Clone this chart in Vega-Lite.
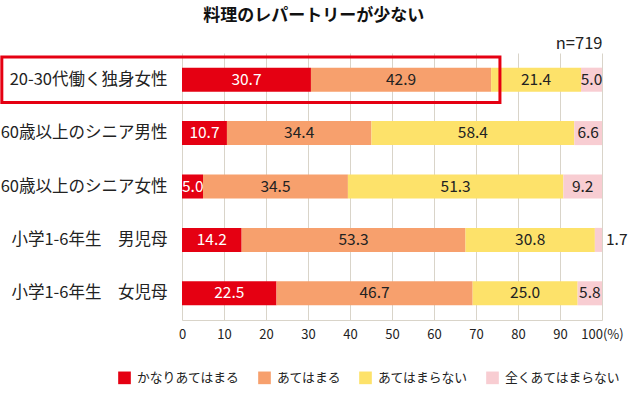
{
  "$schema": "https://vega.github.io/schema/vega-lite/v6.json",
  "width": 420,
  "height": 267,
  "autosize": "none",
  "padding": {"left": 182, "right": 28, "top": 53, "bottom": 76},
  "background": "white",
  "config": {
    "font": "Noto Sans CJK JP",
    "view": {"stroke": null}
  },
  "title": {
    "text": "料理のレパートリーが少ない",
    "fontSize": 17,
    "fontWeight": "bold",
    "color": "#111",
    "anchor": "middle",
    "frame": "bounds",
    "offset": 10
  },
  "data": {
    "values": [
      {"group": "20-30代働く独身女性", "cat": "かなりあてはまる", "v": 30.7, "lab": "30.7"},
      {"group": "20-30代働く独身女性", "cat": "あてはまる", "v": 42.9, "lab": "42.9"},
      {"group": "20-30代働く独身女性", "cat": "あてはまらない", "v": 21.4, "lab": "21.4"},
      {"group": "20-30代働く独身女性", "cat": "全くあてはまらない", "v": 5.0, "lab": "5.0"},
      {"group": "60歳以上のシニア男性", "cat": "かなりあてはまる", "v": 10.7, "lab": "10.7"},
      {"group": "60歳以上のシニア男性", "cat": "あてはまる", "v": 34.4, "lab": "34.4"},
      {"group": "60歳以上のシニア男性", "cat": "あてはまらない", "v": 48.3, "lab": "58.4"},
      {"group": "60歳以上のシニア男性", "cat": "全くあてはまらない", "v": 6.6, "lab": "6.6"},
      {"group": "60歳以上のシニア女性", "cat": "かなりあてはまる", "v": 5.0, "lab": "5.0"},
      {"group": "60歳以上のシニア女性", "cat": "あてはまる", "v": 34.5, "lab": "34.5"},
      {"group": "60歳以上のシニア女性", "cat": "あてはまらない", "v": 51.3, "lab": "51.3"},
      {"group": "60歳以上のシニア女性", "cat": "全くあてはまらない", "v": 9.2, "lab": "9.2"},
      {"group": "小学1-6年生　男児母", "cat": "かなりあてはまる", "v": 14.2, "lab": "14.2"},
      {"group": "小学1-6年生　男児母", "cat": "あてはまる", "v": 53.3, "lab": "53.3"},
      {"group": "小学1-6年生　男児母", "cat": "あてはまらない", "v": 30.8, "lab": "30.8"},
      {"group": "小学1-6年生　男児母", "cat": "全くあてはまらない", "v": 1.7, "lab": "1.7"},
      {"group": "小学1-6年生　女児母", "cat": "かなりあてはまる", "v": 22.5, "lab": "22.5"},
      {"group": "小学1-6年生　女児母", "cat": "あてはまる", "v": 46.7, "lab": "46.7"},
      {"group": "小学1-6年生　女児母", "cat": "あてはまらない", "v": 25.0, "lab": "25.0"},
      {"group": "小学1-6年生　女児母", "cat": "全くあてはまらない", "v": 5.8, "lab": "5.8"}
    ]
  },
  "transform": [
    {"calculate": "indexof(['かなりあてはまる','あてはまる','あてはまらない','全くあてはまらない'], datum.cat)", "as": "k"},
    {"stack": "v", "groupby": ["group"], "sort": [{"field": "k", "order": "ascending"}], "as": ["x0", "x1"]},
    {"calculate": "(datum.x0 + datum.x1) / 2", "as": "mid"}
  ],
  "encoding": {
    "y": {
      "field": "group",
      "type": "nominal",
      "sort": ["20-30代働く独身女性", "60歳以上のシニア男性", "60歳以上のシニア女性", "小学1-6年生　男児母", "小学1-6年生　女児母"],
      "scale": {"paddingInner": 0, "paddingOuter": 0},
      "axis": {"title": null, "domain": false, "ticks": false, "labelFontSize": 16.5, "labelColor": "#222", "labelPadding": 15, "labelLimit": 300}
    }
  },
  "layer": [
    {
      "mark": {"type": "bar", "height": {"band": 0.45}},
      "encoding": {
        "x": {
          "field": "x0", "type": "quantitative",
          "scale": {"domain": [0, 100], "nice": false},
          "axis": {"title": null, "values": [0,10,20,30,40,50,60,70,80,90,100], "grid": true, "gridColor": "#d9d4c9", "domainColor": "#d9d4c9", "ticks": false, "labelFontSize": 13, "labelColor": "#222", "labelPadding": 8, "labelExpr": "datum.value == 100 ? '100(%)' : datum.label", "labelFlush": false}
        },
        "x2": {"field": "x1"},
        "color": {
          "field": "cat", "type": "nominal",
          "scale": {"domain": ["かなりあてはまる", "あてはまる", "あてはまらない", "全くあてはまらない"], "range": ["#e50012", "#f7a06d", "#fde26a", "#f8cdd2"]},
          "legend": {"title": null, "orient": "none", "legendX": -64, "legendY": 318, "direction": "horizontal", "symbolType": "square", "symbolSize": 160, "symbolStrokeWidth": 0, "symbolOpacity": 1, "labelFontSize": 12.8, "labelColor": "#222", "labelOffset": 6, "columnPadding": 18}
        }
      }
    },
    {
      "transform": [{"filter": "datum.v >= 3 && !(datum.k == 0 && datum.v < 6)"}],
      "mark": {"type": "text", "fontSize": 15.5, "baseline": "middle"},
      "encoding": {
        "x": {"field": "mid", "type": "quantitative", "axis": null},
        "text": {"field": "lab"},
        "color": {"condition": {"test": "datum.k == 0", "value": "white"}, "value": "#222"}
      }
    },
    {
      "transform": [{"filter": "datum.k == 0 && datum.v < 6"}],
      "mark": {"type": "text", "fontSize": 15.5, "baseline": "middle", "align": "left", "dx": 0, "color": "white"},
      "encoding": {
        "x": {"field": "x0", "type": "quantitative", "axis": null},
        "text": {"field": "lab"}
      }
    },
    {
      "transform": [{"filter": "datum.v < 3"}],
      "mark": {"type": "text", "fontSize": 15.5, "baseline": "middle", "align": "left", "dx": 4, "color": "#222"},
      "encoding": {
        "x": {"field": "x1", "type": "quantitative", "axis": null},
        "text": {"field": "lab"}
      }
    },
    {
      "data": {"values": [{"group": "20-30代働く独身女性", "left": -42.9, "right": 75.7}]},
      "transform": [],
      "mark": {"type": "bar", "height": {"band": 0.85}, "filled": false, "stroke": "#e50012", "strokeWidth": 3},
      "encoding": {
        "x": {
          "field": "left", "type": "quantitative",
          "axis": {"orient": "top", "labels": false, "ticks": false, "domain": false, "grid": false, "title": "n=719", "titleAnchor": "end", "titleFontSize": 16.5, "titleFontWeight": "normal", "titleColor": "#222", "titlePadding": 2}
        },
        "x2": {"field": "right"}
      }
    }
  ],
  "resolve": {"axis": {"x": "independent"}}
}
